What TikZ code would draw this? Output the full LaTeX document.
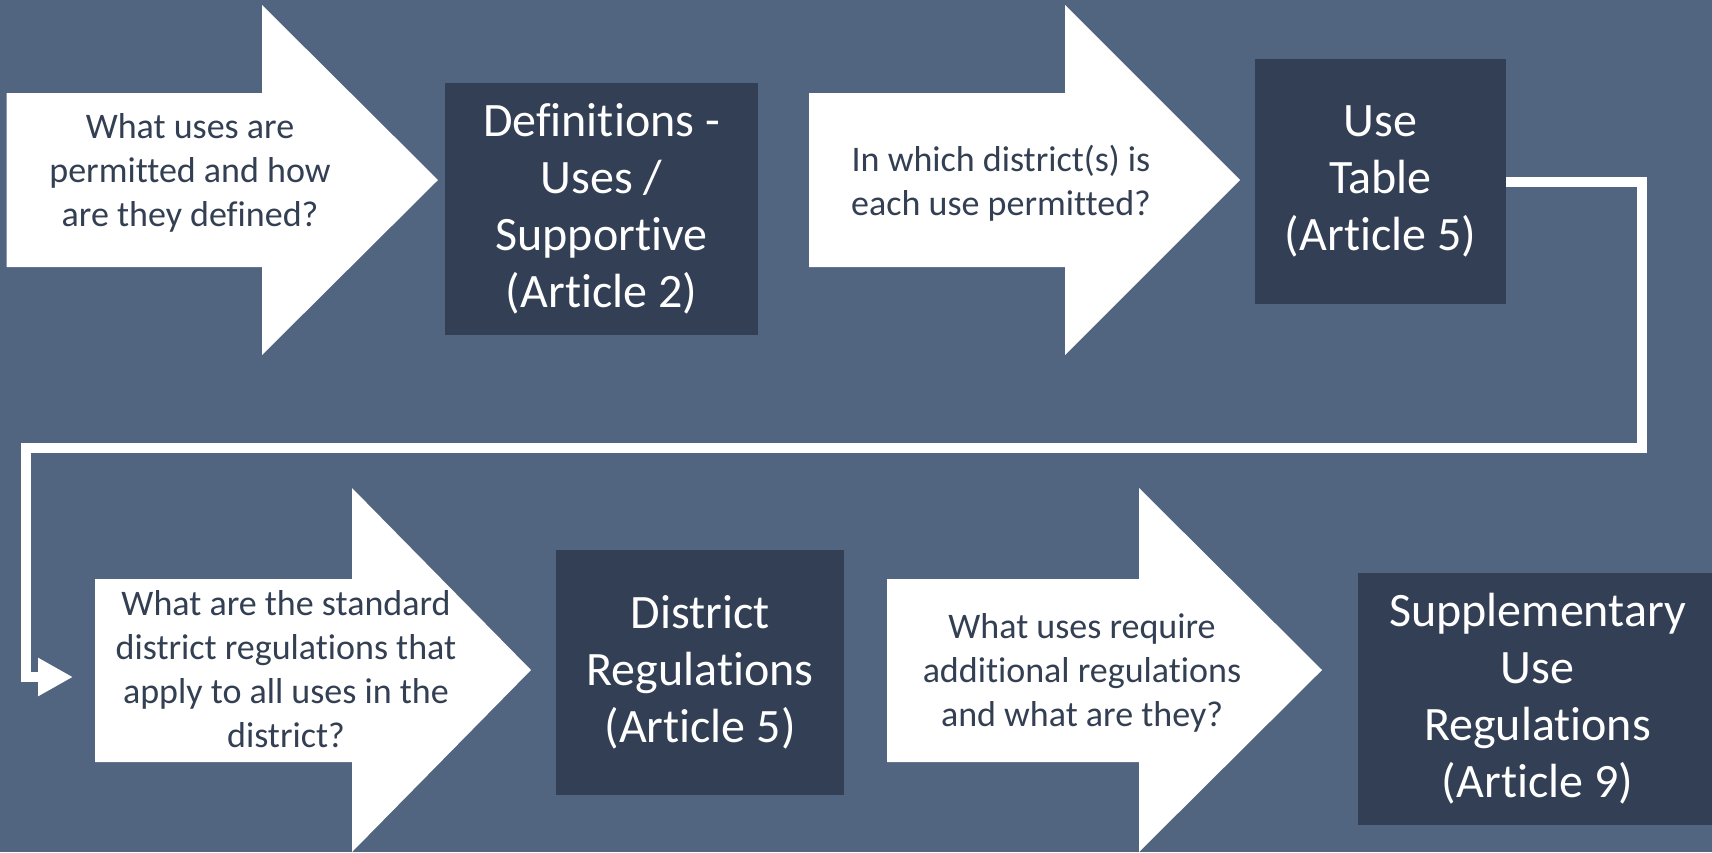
\documentclass[tikz,border=0pt]{standalone}
\usepackage{fontspec}
\setmainfont{Carlito}[Ligatures={NoCommon}]
\usepackage{xcolor}
\usepackage{tikz}
\usetikzlibrary{arrows.meta}

\definecolor{slate}{RGB}{81,100,128}
\definecolor{boxink}{RGB}{51,63,84}
\definecolor{qink}{RGB}{51,63,82}

\tikzset{
  qarrow/.style={fill=white},
  qtext/.style={inner sep=0pt, align=center, text=qink, font=\fontsize{18}{22}\selectfont},
  artbox/.style={fill=boxink, inner sep=0pt, align=center, text=white, font=\fontsize{24}{28.5}\selectfont},
  link/.style={draw=white, line width=5pt, -{Triangle[length=17.5pt,width=18pt]}}
}

\begin{document}
\begin{tikzpicture}[x=0.5pt,y=0.5pt,yscale=-1,xscale=1]
        \useasboundingbox (0,0) rectangle (1712,852);
        \fill [slate] (0,0) rectangle (1712,852);

        % question arrows
        \fill [qarrow] (6.5,93) -- (262,93) -- (262,5) -- (438,180) -- (262,355) -- (262,267) -- (6.5,267) -- cycle;
        \fill [qarrow] (809,93) -- (1065,93) -- (1065,5) -- (1240,180) -- (1065,355) -- (1065,267) -- (809,267) -- cycle;
        \fill [qarrow] (95,579) -- (352,579) -- (352,488) -- (531,670) -- (352,852) -- (352,762) -- (95,762) -- cycle;
        \fill [qarrow] (887,579) -- (1139,579) -- (1139,488) -- (1322,670) -- (1139,852) -- (1139,762) -- (887,762) -- cycle;

        \node (q1) [qtext] at (190,173) {What uses are\\permitted and how\\are they defined?};
        \node (q2) [qtext] at (1001,183) {In which district(s) is\\each use permitted?};
        \node (q3) [qtext] at (286,669) {What are the standard\\district regulations that\\apply to all uses in the\\district?};
        \node (q4) [qtext] at (1082,673) {What uses require\\additional regulations\\and what are they?};

        % article boxes
        \node (defs) [artbox, minimum width=156.5pt, minimum height=126pt] at (601.5,209) {Definitions -\\Uses /\\Supportive\\(Article 2)};
        \node (usetab) [artbox, minimum width=125.5pt, minimum height=122.5pt] at (1380.5,181.5) {Use\\Table\\(Article 5)};
        \node (distreg) [artbox, minimum width=144pt, minimum height=122.5pt] at (700,672.5) {District\\Regulations\\(Article 5)};
        \node (suppreg) [artbox, minimum width=179.5pt, minimum height=126pt] at (1537.5,699) {Supplementary\\Use\\Regulations\\(Article 9)};

        % wrap-around connector
        \coordinate (bendR) at (1642,448);
        \coordinate (bendL) at (26,677);
        \coordinate (q3in) at (73,677);
        \draw [link] (usetab.east) -| (bendR) -| (bendL) -- (q3in);

\end{tikzpicture}
\end{document}
